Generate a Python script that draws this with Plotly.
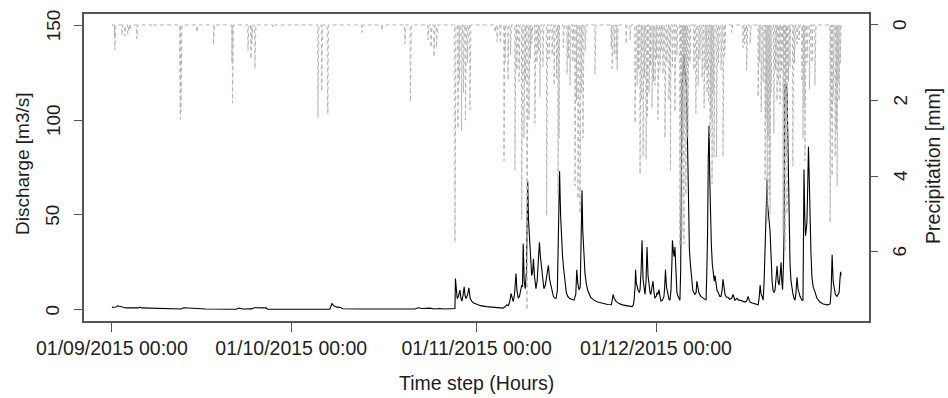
import numpy as np
import pandas as pd
import plotly.graph_objects as go

# ---------------- data (time step = hours since 01/09/2015 00:00) ----------------
start_label = "01/09/2015 00:00"
n_hours = 2928  # 01/09/2015 00:00 .. 31/12/2015 23:00

q_hour = [0, 16, 24, 36, 56, 104, 112, 120, 241, 257, 277, 289, 333, 377, 498, 510, 526,
          562, 570, 618, 626, 875, 883, 891, 903, 915, 927, 996, 1217, 1229, 1245, 1277,
          1293, 1317, 1333,
          1377, 1379, 1382, 1386, 1391, 1397, 1401, 1405, 1410, 1414, 1418, 1422, 1428, 1433,
          1438, 1444, 1452, 1464, 1480, 1504, 1540, 1570,
          1578, 1585, 1592, 1598, 1602, 1607, 1611, 1616, 1622, 1626, 1631, 1636, 1642, 1645,
          1648, 1651, 1655, 1659, 1664, 1669, 1672, 1676, 1680, 1685, 1689, 1692, 1696, 1702,
          1707, 1712, 1716, 1720, 1725, 1730, 1734, 1740, 1746, 1752, 1757, 1765, 1772, 1778,
          1783, 1788, 1793, 1797, 1801, 1805, 1809, 1813, 1818, 1824, 1830, 1836, 1845, 1855,
          1862, 1866, 1870, 1875, 1880, 1884, 1887, 1890, 1894, 1899, 1905, 1912, 1922, 1935,
          1950, 1970, 1990, 2005, 2009, 2012, 2016, 2023, 2035, 2050, 2070, 2088,
          2093, 2096, 2100, 2102, 2105, 2108, 2113, 2117, 2120, 2124, 2128, 2132, 2136, 2140,
          2144, 2148, 2152, 2156, 2160, 2163, 2168, 2172, 2176, 2180, 2185, 2188, 2192, 2196,
          2200, 2204, 2210, 2216, 2219, 2222, 2226, 2232, 2236, 2240, 2244, 2248, 2250, 2254,
          2257, 2260, 2264, 2268, 2274, 2280, 2283, 2286, 2289, 2292, 2296, 2298, 2300, 2303,
          2306, 2309, 2312, 2315, 2318, 2322, 2326, 2332, 2340, 2345, 2348, 2352, 2356, 2364,
          2373, 2380, 2385, 2388, 2391, 2394, 2397, 2400, 2403, 2406, 2410, 2414, 2418, 2421,
          2425, 2429, 2433, 2440, 2445, 2449, 2453, 2457, 2461, 2467, 2473, 2480, 2488, 2493,
          2497, 2501, 2509, 2515, 2521, 2530, 2541, 2548, 2554, 2558, 2562, 2570, 2580, 2594,
          2598, 2602, 2606, 2610, 2614, 2618, 2622, 2626, 2630, 2632, 2634, 2638, 2642, 2646,
          2650, 2654, 2658, 2662, 2666, 2670, 2674, 2678, 2682, 2686, 2689, 2692, 2696, 2698,
          2700, 2702, 2705, 2708, 2710, 2713, 2716, 2718, 2722, 2726, 2730, 2734, 2738, 2742,
          2746, 2750, 2754, 2758, 2762, 2766, 2770, 2774, 2776, 2778, 2781, 2784, 2787, 2790,
          2793, 2796, 2799, 2802, 2806, 2810, 2815, 2822, 2830, 2842, 2855, 2874, 2883, 2887,
          2891, 2895, 2899, 2904, 2911, 2916, 2919, 2923, 2925, 2927]
q_value = [1.2, 1.4, 2.0, 1.5, 0.9, 0.9, 1.3, 0.9, 0.6, 0.2, 0.3, 1.0, 0.8, 0.3, 0.2, 0.8, 0.3,
           0.4, 1.0, 0.9, 0.2, 0.2, 3.2, 2.0, 1.3, 1.2, 0.5, 0.3, 0.3, 1.0, 0.6, 0.8,
           0.3, 0.6, 0.3,
           0.6, 16.4, 9.0, 5.9, 7.0, 10.3, 6.0, 4.5, 8.0, 12.0, 7.0, 5.9, 8.0, 11.5,
           6.0, 4.5, 3.5, 2.8, 2.1, 1.6, 1.0, 0.8,
           1.5, 2.5, 2.2, 5.0, 8.5, 5.0, 4.2, 8.0, 19.0, 10.0, 6.0, 7.0, 10.0, 13.0,
           12.0, 34.7, 15.0, 11.0, 20.0, 67.8, 48.0, 36.0, 24.0, 18.0, 20.0, 26.8, 18.0, 11.0,
           15.0, 28.0, 35.5, 28.0, 22.0, 15.0, 11.0, 13.0, 18.0, 23.4, 16.0, 10.0, 7.0, 6.0,
           6.0, 10.0, 40.0, 73.0, 50.0, 34.0, 28.0, 22.0, 14.0, 9.0, 7.0, 6.0, 5.5, 5.0,
           8.0, 21.0, 14.0, 10.5, 12.0, 35.0, 63.0, 42.0, 28.0, 19.0, 13.0, 9.4, 6.5, 5.0,
           4.0, 3.2, 2.7, 2.6, 5.0, 8.0, 6.0, 4.5, 3.2, 2.5, 2.0, 1.6,
           2.5, 5.0, 12.0, 21.0, 14.0, 12.0, 10.0, 9.0, 10.5, 20.0, 36.6, 16.0, 12.0, 8.0,
           15.0, 33.0, 18.0, 12.0, 9.0, 8.0, 11.0, 15.0, 9.0, 6.0, 7.0, 9.0, 8.0, 10.5,
           7.0, 4.5, 5.0, 7.0, 12.0, 21.0, 12.0, 7.0, 5.5, 5.0, 10.0, 25.0, 36.6, 30.0,
           28.0, 33.0, 18.0, 9.0, 6.5, 5.0, 20.0, 80.0, 122.0, 124.0, 135.0, 125.0, 127.0, 120.0,
           122.0, 100.0, 70.0, 45.0, 32.0, 24.0, 17.0, 10.0, 8.0, 9.0, 15.0, 11.0, 9.0, 7.0,
           6.0, 5.5, 5.0, 20.0, 40.0, 80.0, 97.0, 68.0, 49.0, 35.0, 24.0, 18.0, 15.0, 18.0,
           13.0, 10.0, 9.4, 7.0, 7.0, 10.0, 16.0, 11.0, 8.0, 6.5, 6.5, 5.5, 6.0, 8.0,
           6.0, 5.0, 6.0, 5.0, 5.0, 4.5, 4.0, 4.5, 7.0, 5.0, 4.0, 3.5, 3.0, 2.6,
           6.0, 13.0, 8.0, 7.0, 5.0, 15.0, 33.0, 50.0, 68.6, 55.0, 51.0, 47.0, 41.0, 25.0,
           15.0, 10.0, 9.0, 10.5, 16.0, 23.0, 15.0, 13.0, 18.0, 25.0, 15.0, 10.5, 25.0, 41.0,
           90.0, 119.0, 117.0, 118.0, 115.0, 95.0, 60.0, 41.0, 24.0, 15.0, 10.0, 8.0, 6.0, 5.0,
           9.0, 17.0, 11.0, 8.0, 7.0, 6.0, 5.0, 5.0, 30.0, 74.0, 50.0, 39.0, 42.0, 47.0,
           65.0, 86.0, 70.0, 49.0, 30.0, 17.0, 12.0, 9.4, 6.0, 4.0, 3.0, 2.5, 3.0, 10.0,
           29.0, 15.0, 10.5, 8.0, 7.0, 8.0, 9.0, 17.0, 20.0, 18.0]

p_hour = [10, 12, 14, 40, 52, 64, 72, 100, 160, 273, 275, 277, 341, 408, 482, 484, 486,
          546, 558, 562, 574, 646, 827, 842, 865, 867, 1004, 1083, 1176, 1198, 1269, 1281,
          1293, 1303, 1377, 1389, 1395, 1403, 1411, 1419, 1427, 1437, 1538, 1546, 1558,
          1560, 1574, 1578, 1590, 1600, 1618, 1625, 1634, 1645, 1654, 1660, 1666, 1674,
          1680, 1685, 1698, 1706, 1712, 1718, 1730, 1745, 1755, 1767, 1775, 1785, 1791,
          1795, 1812, 1827, 1833, 1839, 1850, 1859, 1865, 1871, 1879, 1885, 1891, 1900,
          1939, 2004, 2008, 2016, 2024, 2028, 2064, 2080, 2100, 2108, 2114, 2120, 2126,
          2132, 2138, 2144, 2150, 2156, 2162, 2168, 2174, 2180, 2186, 2192, 2200, 2206,
          2212, 2220, 2228, 2236, 2242, 2250, 2260, 2268, 2280, 2284, 2288, 2292, 2296,
          2300, 2304, 2308, 2312, 2320, 2336, 2344, 2353, 2360, 2369, 2377, 2384, 2389,
          2395, 2401, 2405, 2409, 2413, 2417, 2427, 2435, 2445, 2453, 2460, 2488, 2533,
          2540, 2548, 2562, 2594, 2600, 2606, 2614, 2622, 2626, 2630, 2634, 2638, 2642,
          2646, 2657, 2664, 2670, 2676, 2682, 2688, 2694, 2698, 2702, 2706, 2710, 2716,
          2722, 2733, 2740, 2750, 2758, 2770, 2774, 2778, 2782, 2790, 2800, 2810, 2822,
          2883, 2887, 2891, 2895, 2903, 2907, 2911, 2915, 2919, 2924]
p_value = [0.3, 0.66, 0.5, 0.27, 0.3, 0.25, 0.15, 0.37, 0.05, 1.5, 2.5, 2.3, 0.2, 0.53, 1.0, 2.07, 1.5,
           0.68, 0.9, 0.5, 1.16, 0.07, 2.46, 1.76, 2.0, 2.37, 0.2, 0.15, 0.5, 2.03, 0.4, 0.6,
           0.85, 0.6, 5.76, 2.74, 1.5, 2.8, 1.8, 2.52, 1.0, 2.25, 0.2, 0.45, 0.35,
           0.5, 3.6, 1.0, 1.46, 0.8, 3.83, 1.2, 1.5, 5.15, 3.0, 1.5, 7.55, 2.5,
           0.9, 0.5, 2.6, 1.0, 0.7, 1.9, 1.1, 5.05, 0.9, 0.8, 1.6, 1.4, 4.5,
           3.0, 0.6, 1.3, 0.9, 1.6, 1.0, 4.26, 2.0, 4.6, 5.0, 1.8, 3.0, 0.7,
           1.3, 0.6, 1.15, 0.8, 0.9, 1.2, 0.5, 0.4, 2.6, 1.6, 1.2, 3.96, 2.0,
           3.5, 1.4, 3.57, 2.4, 1.8, 1.1, 2.2, 1.5, 1.6, 0.9, 2.5, 1.2, 0.7,
           1.3, 3.0, 1.0, 2.0, 3.83, 1.1, 2.3, 0.8, 5.85, 4.0, 5.5, 3.0, 5.8,
           2.5, 4.5, 2.0, 3.0, 1.0, 1.2, 2.34, 1.6, 0.9, 1.4, 2.2, 1.2, 1.8,
           2.0, 3.0, 2.5, 4.2, 1.8, 3.5, 3.5, 1.0, 1.2, 3.5, 0.8, 0.2, 0.6,
           0.5, 1.2, 0.5, 1.9, 1.0, 2.3, 1.5, 4.1, 2.5, 5.2, 3.0, 4.5, 5.0,
           1.8, 2.87, 1.2, 2.0, 1.5, 2.1, 1.2, 5.5, 4.0, 6.0, 3.5, 5.0, 1.5,
           1.1, 3.73, 1.0, 0.5, 0.4, 1.5, 3.0, 2.2, 3.6, 1.0, 1.7, 1.0, 1.6,
           5.24, 2.5, 4.0, 2.0, 3.5, 2.8, 4.26, 1.5, 2.0, 1.0]

x_tick_labels = ["01/09/2015 00:00", "01/10/2015 00:00", "01/11/2015 00:00", "01/12/2015 00:00"]
q_ticks = [0, 50, 100, 150]
p_ticks = [0, 2, 4, 6]

# ---------------- build series ----------------
start = pd.to_datetime(start_label, format="%d/%m/%Y %H:%M")
q_time = start + pd.to_timedelta(q_hour, unit="h")
p_time = start + pd.to_timedelta(np.arange(n_hours), unit="h")
precip = np.zeros(n_hours)
precip[np.array(p_hour)] = p_value
tick_times = pd.to_datetime(x_tick_labels, format="%d/%m/%Y %H:%M")

FONT = "Liberation Sans, Arial, sans-serif"
AX = "#555555"
TXT = "#1e1e1e"

fig = go.Figure()
fig.add_trace(go.Scatter(x=q_time, y=q_value, mode="lines",
                         line=dict(color="black", width=1.1), name="Discharge",
                         yaxis="y"))
fig.add_trace(go.Scatter(x=p_time, y=precip, mode="lines",
                         line=dict(color="#b4b4b4", width=1, dash="4px,3px"),
                         name="Precipitation", yaxis="y2"))

annotations = [
    dict(text="Time step (Hours)", xref="paper", yref="paper",
         x=0.5, y=-0.2006, xanchor="center", yanchor="middle",
         showarrow=False, font=dict(size=19.5, color=TXT, family=FONT)),
    dict(text="Discharge [m3/s]", xref="paper", yref="paper",
         x=-0.079, y=0.5146, xanchor="center", yanchor="middle", textangle=-90,
         showarrow=False, font=dict(size=19, color=TXT, family=FONT)),
    dict(text="Precipitation [mm]", xref="paper", yref="paper",
         x=1.0815, y=0.505, xanchor="center", yanchor="middle", textangle=-90,
         showarrow=False, font=dict(size=19.5, color=TXT, family=FONT)),
]
# rotated tick labels (R style, reading upward)
for v in q_ticks:
    annotations.append(dict(text=str(v), xref="paper", yref="y", x=-0.0395, y=v,
                            xanchor="center", yanchor="middle", textangle=-90,
                            showarrow=False, font=dict(size=19, color=TXT, family=FONT)))
for v in p_ticks:
    annotations.append(dict(text=str(v), xref="paper", yref="y2", x=1.0395, y=v,
                            xanchor="center", yanchor="middle", textangle=-90,
                            showarrow=False, font=dict(size=19, color=TXT, family=FONT)))

fig.update_layout(
    width=948, height=398,
    margin=dict(l=84, r=79, t=12, b=77),
    plot_bgcolor="white", paper_bgcolor="white",
    showlegend=False,
    font=dict(family=FONT, size=19, color=TXT),
    xaxis=dict(
        type="date",
        range=[start - pd.Timedelta(hours=112), start + pd.Timedelta(hours=3039)],
        tickmode="array", tickvals=tick_times, ticktext=x_tick_labels,
        ticks="outside", ticklen=9, tickwidth=1.2, tickcolor=AX,
        showline=True, linecolor=AX, linewidth=1.5, mirror=True,
        showgrid=False, zeroline=False,
        tickfont=dict(size=19.5, color=TXT, family=FONT),
    ),
    yaxis=dict(
        range=[-6, 156],
        tickmode="array", tickvals=q_ticks, showticklabels=False,
        ticks="outside", ticklen=8, tickwidth=1.2, tickcolor=AX,
        showline=True, linecolor=AX, linewidth=1.5, mirror=True,
        showgrid=False, zeroline=False,
    ),
    yaxis2=dict(
        overlaying="y", side="right", anchor="x",
        range=[7.84, -0.29],
        tickmode="array", tickvals=p_ticks, showticklabels=False,
        ticks="outside", ticklen=8, tickwidth=1.2, tickcolor=AX,
        showline=False, showgrid=False, zeroline=False,
    ),
    annotations=annotations,
)

fig.write_html("out.html")
